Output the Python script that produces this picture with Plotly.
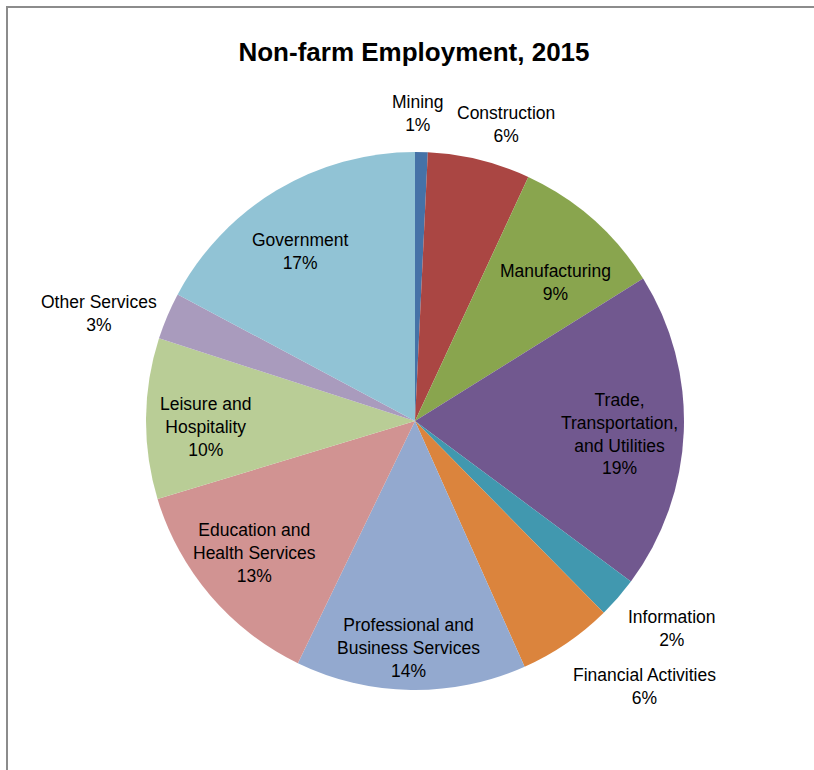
import math
import plotly.graph_objects as go

categories = ["Mining", "Construction", "Manufacturing",
              "Trade, Transportation, and Utilities", "Information",
              "Financial Activities", "Professional and Business Services",
              "Education and Health Services", "Leisure and Hospitality",
              "Other Services", "Government"]
display_labels = ["Mining", "Construction", "Manufacturing",
                  "Trade,<br>Transportation,<br>and Utilities", "Information",
                  "Financial Activities", "Professional and<br>Business Services",
                  "Education and<br>Health Services", "Leisure and<br>Hospitality",
                  "Other Services", "Government"]
shares = [0.76, 6.16, 9.19, 19.06, 2.45, 5.70, 13.85, 13.15, 9.65, 2.83, 17.20]
colors = ["#4572A7", "#AA4643", "#89A54E", "#71588F", "#4198AF", "#DB843D",
          "#93A9CF", "#D19392", "#B9CD96", "#A99BBD", "#91C3D5"]

# label placement style: radial factor (fraction of radius) and small pixel nudges
label_radius = [1.145, 1.15, 0.73, 0.76, 1.23, 1.25, 0.84, 0.77, 0.78, 1.24, 0.76]
label_nudge = [(-4, 0), (17, 4), (10, 9), (0, 5), (7, -10), (40, -12),
               (-3, 1), (-3, -3), (0, 8), (-9, 23), (-10, 6)]

W, H = 814, 770
cx, cy, r = 415, 421, 269
font_family = "Liberation Sans, Arial, sans-serif"

fig = go.Figure(go.Pie(
    labels=categories, values=shares, textinfo="none",
    sort=False, direction="clockwise", rotation=0,
    marker=dict(colors=colors, line=dict(width=0)),
    showlegend=False, hoverinfo="label+percent",
    domain=dict(x=[(cx - r) / W, (cx + r) / W], y=[1 - (cy + r) / H, 1 - (cy - r) / H]),
))

total = sum(shares)
annotations = []
cum = 0.0
for lab, v, k, (nx, ny) in zip(display_labels, shares, label_radius, label_nudge):
    mid = (cum + v / 2) / total * 2 * math.pi
    cum += v
    px = cx + k * r * math.sin(mid) + nx
    py = cy - k * r * math.cos(mid) + ny
    pct = round(v / total * 100)
    annotations.append(dict(
        x=px / W, y=1 - py / H, xref="paper", yref="paper",
        text=f"{lab}<br>{pct}%", showarrow=False,
        xanchor="center", yanchor="middle", align="center",
        font=dict(family=font_family, size=17.5, color="black"),
    ))

frame = dict(color="#8c8c8c", width=2)
fig.update_layout(
    width=W, height=H, margin=dict(l=0, r=0, t=0, b=0),
    paper_bgcolor="white", plot_bgcolor="white",
    annotations=annotations,
    title=dict(text="<b>Non-farm Employment, 2015</b>", x=414 / W, xanchor="center",
               y=1 - 52 / H, yanchor="middle",
               font=dict(family=font_family, size=26, color="black")),
    shapes=[
        dict(type="line", xref="paper", yref="paper",
             x0=6 / W, x1=1.0, y0=1 - 7 / H, y1=1 - 7 / H, line=frame),
        dict(type="line", xref="paper", yref="paper",
             x0=7 / W, x1=7 / W, y0=0.0, y1=1 - 6 / H, line=frame),
    ],
)

fig.write_html(
    "out.html", config={"displayModeBar": False},
    post_script=("document.body.style.margin='0';"
                 "document.body.style.overflow='hidden';"
                 "document.documentElement.style.overflow='hidden';"),
)
